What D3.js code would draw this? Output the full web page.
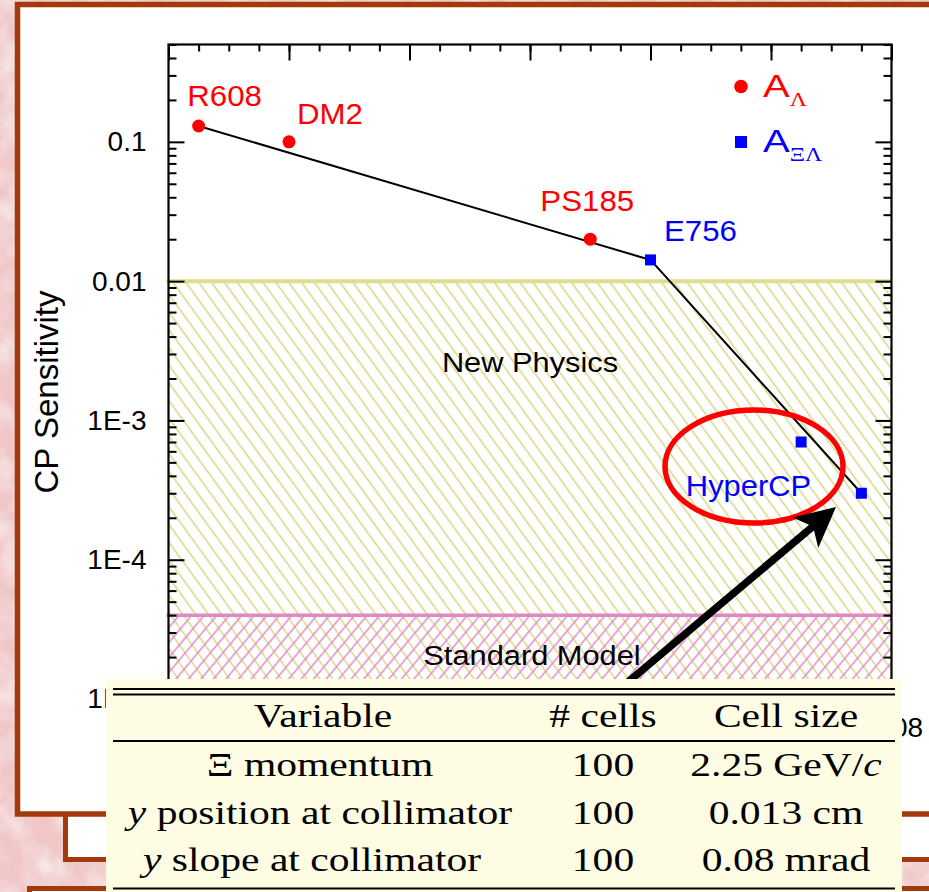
<!DOCTYPE html>
<html>
<head>
<meta charset="utf-8">
<script src="https://cdn.jsdelivr.net/npm/d3@7/dist/d3.min.js"></script>
<style>
  html, body { margin: 0; padding: 0; background: #f4d2d2; }
  svg { display: block; }
</style>
</head>
<body>
<script>
// ---- data -------------------------------------------------------------
const lambdaExp   = ["R608", "DM2", "PS185"];
const lambdaYear  = [1985, 1988, 1998];
const lambdaValue = [0.13, 0.1, 0.02];

const xiExp   = ["E756", "HyperCP", "HyperCP"];
const xiYear  = [2000, 2005, 2007];
const xiValue = [0.0142, 7e-4, 3e-4];

const trendYear  = [1985, 2000, 2007];
const trendValue = [0.13, 0.0142, 3e-4];

const xMajorTicks = [1984, 1988, 1992, 1996, 2000, 2004, 2008];
const xLabelTicks = [2008];
const yMajorTicks = [1e-5, 1e-4, 1e-3, 0.01, 0.1];
const yTickLabels = ["1E-5", "1E-4", "1E-3", "0.01", "0.1"];

const newPhysicsTop    = 0.01;
const standardModelTop = 4e-5;

const tableHeader = ["Variable", "# cells", "Cell size"];
const tableVariables = ["Ξ momentum", "y position at collimator", "y slope at collimator"];
const tableCells = ["100", "100", "100"];
const tableSizes = ["2.25 GeV/c", "0.013 cm", "0.08 mrad"];

// ---- page --------------------------------------------------------------
const W = 929, H = 892;
const svg = d3.select("body").append("svg").attr("width", W).attr("height", H);
const defs = svg.append("defs");

// mottled slide background
const mottle = defs.append("filter").attr("id", "mottle")
  .attr("x", 0).attr("y", 0).attr("width", "100%").attr("height", "100%");
mottle.append("feTurbulence").attr("type", "fractalNoise")
  .attr("baseFrequency", "0.035").attr("numOctaves", 3).attr("seed", 7);
mottle.append("feColorMatrix").attr("type", "matrix")
  .attr("values", "0 0 0 0 1  0 0 0 0 1  0 0 0 0 1  1.6 0 0 0 -0.55");
svg.append("rect").attr("width", W).attr("height", H).attr("fill", "#f0c6c6");
svg.append("rect").attr("width", W).attr("height", H).attr("filter", "url(#mottle)").attr("opacity", 0.7);

const brown = "#a23a0e";
// stacked slide panels
svg.append("rect").attr("x", 29.5).attr("y", 888.5).attr("width", 950).attr("height", 60)
  .attr("fill", "#fff").attr("stroke", brown).attr("stroke-width", 5);
svg.append("rect").attr("x", 65.5).attr("y", 790).attr("width", 900).attr("height", 69.5)
  .attr("fill", "#fff").attr("stroke", brown).attr("stroke-width", 5);
svg.append("rect").attr("x", 17.5).attr("y", 4.5).attr("width", 950).attr("height", 809.5)
  .attr("fill", "#fff").attr("stroke", brown).attr("stroke-width", 5.5);

// ---- chart -------------------------------------------------------------
const x = d3.scaleLinear().domain([1984, 2008]).range([168.5, 891.5]);
const y = d3.scaleLog().domain([1e-5, 0.5]).range([699, 44.5]);
const x0 = x.range()[0], x1 = x.range()[1];
const yTop = y.range()[1], yBot = y.range()[0];

// hatch patterns
function hatch(id, color, angle, gap) {
  const p = defs.append("pattern").attr("id", id)
    .attr("patternUnits", "userSpaceOnUse").attr("width", gap).attr("height", gap)
    .attr("patternTransform", `rotate(${angle})`);
  p.append("line").attr("x1", gap / 2).attr("x2", gap / 2).attr("y1", -1).attr("y2", gap + 1)
    .attr("stroke", color).attr("stroke-width", 1.5);
}
hatch("hatchYellow", "#d6d682", -36, 10.4);
hatch("hatchPink", "#e48acb", 40, 9.6);

const chart = svg.append("g");
chart.append("rect").attr("x", x0).attr("y", y(newPhysicsTop))
  .attr("width", x1 - x0).attr("height", yBot - y(newPhysicsTop)).attr("fill", "url(#hatchYellow)");
chart.append("rect").attr("x", x0).attr("y", y(standardModelTop))
  .attr("width", x1 - x0).attr("height", yBot - y(standardModelTop)).attr("fill", "url(#hatchPink)");
chart.append("line").attr("x1", x0 - 2).attr("x2", x1).attr("y1", y(newPhysicsTop)).attr("y2", y(newPhysicsTop))
  .attr("stroke", "#dede8e").attr("stroke-width", 4);
chart.append("line").attr("x1", x0 - 2).attr("x2", x1).attr("y1", y(standardModelTop)).attr("y2", y(standardModelTop))
  .attr("stroke", "#e088c6").attr("stroke-width", 3.5);

const sansFont = "Arial, 'Liberation Sans', Helvetica, sans-serif";

// region names
chart.append("text").attr("transform", `translate(530,372) scale(1.1,1)`)
  .attr("text-anchor", "middle").attr("font-family", sansFont).attr("font-size", 28).text("New Physics");
chart.append("text").attr("transform", `translate(532,665) scale(1.1,1)`)
  .attr("text-anchor", "middle").attr("font-family", sansFont).attr("font-size", 28).text("Standard Model");

// axes: ticks point inward on all four sides
const minorYears = d3.range(1984, 2009);
const yMinor = [];
for (let e = -5; e <= -1; e++) for (let k = 2; k <= 9; k++) { const v = k * Math.pow(10, e); if (v <= 0.5) yMinor.push(v); }

const axStyle = g => { g.select(".domain").remove(); g.selectAll("line").attr("stroke", "#000").attr("stroke-width", 2); };
const tickText = g => g.selectAll("text").attr("font-family", sansFont).attr("font-size", 28).attr("fill", "#000");

chart.append("g").attr("transform", `translate(0,${yTop})`)
  .call(d3.axisTop(x).tickValues(minorYears).tickSize(-7).tickFormat(""))
  .call(axStyle);
chart.append("g").attr("transform", `translate(0,${yTop})`)
  .call(d3.axisTop(x).tickValues(xMajorTicks).tickSize(-16).tickFormat(""))
  .call(axStyle);
chart.append("g").attr("transform", `translate(0,${yBot})`)
  .call(d3.axisBottom(x).tickValues(minorYears).tickSize(-7).tickFormat(""))
  .call(axStyle);
chart.append("g").attr("transform", `translate(0,${yBot})`)
  .call(d3.axisBottom(x).tickValues(xMajorTicks).tickSize(-16).tickFormat(""))
  .call(axStyle);
// the bottom year labels sit under the table; only the last one peeks out
chart.append("g").attr("transform", `translate(0,${yBot})`)
  .call(d3.axisBottom(x).tickValues(xLabelTicks).tickSize(0).tickPadding(18).tickFormat(d3.format("d")))
  .call(axStyle).call(tickText);

chart.append("g").attr("transform", `translate(${x0},0)`)
  .call(d3.axisLeft(y).tickValues(yMinor).tickSize(-8).tickFormat(""))
  .call(axStyle);
chart.append("g").attr("transform", `translate(${x0},0)`)
  .call(d3.axisLeft(y).tickValues(yMajorTicks).tickSize(-16).tickPadding(22)
    .tickFormat((d, i) => yTickLabels[i]))
  .call(axStyle).call(tickText);
chart.append("g").attr("transform", `translate(${x1},0)`)
  .call(d3.axisRight(y).tickValues(yMinor).tickSize(-8).tickFormat(""))
  .call(axStyle);
chart.append("g").attr("transform", `translate(${x1},0)`)
  .call(d3.axisRight(y).tickValues(yMajorTicks).tickSize(-16).tickFormat(""))
  .call(axStyle);

chart.append("rect").attr("x", x0).attr("y", yTop).attr("width", x1 - x0).attr("height", yBot - yTop)
  .attr("fill", "none").attr("stroke", "#000").attr("stroke-width", 2.2);

// y axis title
chart.append("text").attr("transform", "translate(58,392) rotate(-90)")
  .attr("text-anchor", "middle").attr("font-family", sansFont).attr("font-size", 33).text("CP Sensitivity");

// trend line
chart.append("path")
  .attr("d", d3.line().x((d, i) => x(trendYear[i])).y((d, i) => y(trendValue[i]))(trendYear))
  .attr("fill", "none").attr("stroke", "#000").attr("stroke-width", 2);

// A_Lambda points
lambdaYear.forEach((yr, i) => {
  chart.append("circle").attr("cx", x(yr)).attr("cy", y(lambdaValue[i])).attr("r", 6.5).attr("fill", "#ff0000");
});
// A_XiLambda points
xiYear.forEach((yr, i) => {
  chart.append("rect").attr("x", x(yr) - 5.5).attr("y", y(xiValue[i]) - 5.5)
    .attr("width", 11).attr("height", 11).attr("fill", "#0000ff");
});

// experiment labels
const labelOffsets = { "R608": [26, -20], "DM2": [41, -18], "PS185": [-3, -28], "E756": [50, -19] };
lambdaExp.forEach((name, i) => {
  const [dx, dy] = labelOffsets[name];
  chart.append("text").attr("transform", `translate(${x(lambdaYear[i]) + dx},${y(lambdaValue[i]) + dy}) scale(1.06,1)`)
    .attr("text-anchor", "middle").attr("font-family", sansFont).attr("font-size", 29.5)
    .attr("fill", "#ff0000").text(name);
});
{
  const [dx, dy] = labelOffsets["E756"];
  chart.append("text").attr("transform", `translate(${x(xiYear[0]) + dx},${y(xiValue[0]) + dy}) scale(1.06,1)`)
    .attr("text-anchor", "middle").attr("font-family", sansFont).attr("font-size", 29.5)
    .attr("fill", "#0000ff").text(xiExp[0]);
}
// HyperCP label sits inside the highlight ring
chart.append("text").attr("transform", `translate(748.5,496) scale(1.03,1)`)
  .attr("text-anchor", "middle").attr("font-family", sansFont).attr("font-size", 30)
  .attr("fill", "#0000ff").text(xiExp[1]);

// legend
const leg = chart.append("g");
leg.append("circle").attr("cx", 741).attr("cy", 86.5).attr("r", 6.8).attr("fill", "#ff0000");
leg.append("rect").attr("x", 735).attr("y", 136).attr("width", 12).attr("height", 12).attr("fill", "#0000ff");
const serif = "'Liberation Serif', 'Times New Roman', serif";
const legText = (yy, color, sub) => {
  const t = leg.append("text").attr("transform", `translate(763,${yy}) scale(1.25,1)`)
    .attr("font-family", sansFont).attr("font-size", 32).attr("fill", color);
  t.append("tspan").text("A");
  t.append("tspan").attr("font-family", serif).attr("font-size", 19).attr("dy", 9).text(sub);
};
legText(97, "#ff0000", "Λ");
legText(152, "#0000ff", "ΞΛ");

// highlight ring and arrow
chart.append("ellipse").attr("cx", 754).attr("cy", 466.5).attr("rx", 89).attr("ry", 56.5)
  .attr("fill", "none").attr("stroke", "#ff0000").attr("stroke-width", 5.5);

const tip = [836, 507];
const ang = Math.atan2(-0.644, 0.765);
const ux = Math.cos(ang), uy = Math.sin(ang);   // along the arrow
const nx = -uy, ny = ux;                        // across the arrow
const headLen = 40, headHalf = 20, notch = 8, shaftHalf = 3.8;
const P = (a, b) => [tip[0] - ux * a + nx * b, tip[1] - uy * a + ny * b];
const arrowPts = [
  tip, P(headLen, headHalf), P(headLen - notch, shaftHalf), P(300, shaftHalf),
  P(300, -shaftHalf), P(headLen - notch, -shaftHalf), P(headLen, -headHalf)
];
chart.append("polygon").attr("points", arrowPts.map(p => p.join(",")).join(" ")).attr("fill", "#000");

// ---- table overlay -----------------------------------------------------
const tbl = svg.append("g");
tbl.append("rect").attr("x", 106).attr("y", 679).attr("width", 796).attr("height", 220).attr("fill", "#fefde4");
const rule = (yy, w) => tbl.append("line").attr("x1", 113).attr("x2", 895).attr("y1", yy).attr("y2", yy)
  .attr("stroke", "#000").attr("stroke-width", w);
rule(689, 2); rule(694.5, 2); rule(741, 2); rule(888.5, 2);

const colX = [320, 603, 786];
const cellText = (cx, yy, parts) => {
  const t = tbl.append("text").attr("transform", `translate(${cx},${yy}) scale(1.26,1)`)
    .attr("text-anchor", "middle").attr("font-family", serif).attr("font-size", 33).attr("fill", "#000");
  parts.forEach(p => {
    const s = t.append("tspan").text(p.t);
    if (p.i) s.attr("font-style", "italic");
  });
};
cellText(colX[0] + 3, 727, [{ t: tableHeader[0] }]);
cellText(colX[1], 727, [{ t: tableHeader[1] }]);
cellText(colX[2], 727, [{ t: tableHeader[2] }]);
const rowY = [776, 824, 871];
tableVariables.forEach((v, i) => {
  const parts = v.startsWith("y ") ? [{ t: "y", i: true }, { t: v.slice(1) }] : [{ t: v }];
  cellText(colX[0] - (i === 2 ? 8 : 0), rowY[i], parts);
  cellText(colX[1], rowY[i], [{ t: tableCells[i] }]);
  const s = tableSizes[i];
  const sp = s.endsWith("/c") ? [{ t: s.slice(0, -1) }, { t: "c", i: true }] : [{ t: s }];
  cellText(colX[2], rowY[i], sp);
});
</script>
</body>
</html>
